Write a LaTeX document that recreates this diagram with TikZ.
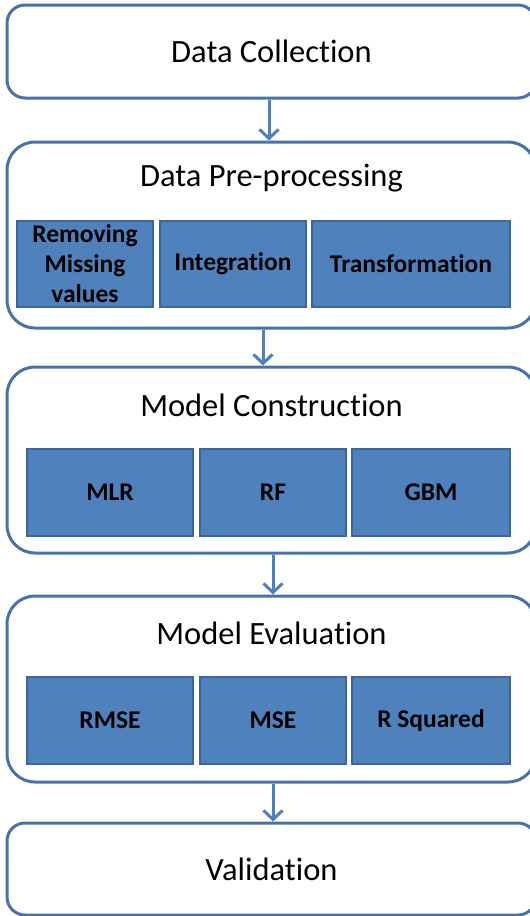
\documentclass[tikz,border=0pt]{standalone}
\usepackage{fontspec}
\setmainfont{Carlito}[Ligatures=CommonOff]
\usetikzlibrary{arrows.meta}
\definecolor{boxfill}{HTML}{4F81BD}
\definecolor{subline}{HTML}{3B659C}
\definecolor{outline}{HTML}{4872AA}
\definecolor{arrowc}{HTML}{4F81BD}
\begin{document}
\begin{tikzpicture}[x=1pt,y=-1pt,
  outer/.style={draw=outline, line width=3pt, fill=white, minimum width=529pt, inner sep=0pt},
  title/.style={font=\fontsize{32.5}{36}\selectfont, text=black, inner sep=0pt},
  sub/.style={draw=subline, line width=2pt, fill=boxfill, inner sep=0pt, align=center,
     font=\fontsize{25.5}{30}\selectfont\bfseries, text=black},
  flow/.style={draw=arrowc, line width=3pt, -{Straight Barb[length=9pt,width=19pt,line width=3pt]}}]
\useasboundingbox (0,0) rectangle (530,916);
\clip (0,0) rectangle (530,916);
\fill[white] (0,0) rectangle (530,916);

% outer boxes
\node[outer, rounded corners=18pt, minimum height=93pt, font=\fontsize{32.5}{36}\selectfont] (dc) at (271.5,51.5) {Data Collection};
\node[outer, rounded corners=28pt, minimum height=186pt] (dp) at (271.5,235) {};
\node[outer, rounded corners=28pt, minimum height=186pt] (mc) at (271.5,460) {};
\node[outer, rounded corners=28pt, minimum height=186pt] (me) at (271.5,689) {};
\node[outer, rounded corners=18pt, minimum height=92pt, font=\fontsize{32.5}{36}\selectfont] (va) at (271.5,869) {Validation};

% titles
\node[title] (dpt) at (271.5,178) {Data Pre-processing};
\node[title] (mct) at (271.5,405) {Model Construction};
\node[title] (met) at (271.5,633) {Model Evaluation};

% sub boxes: pre-processing
\node[sub, minimum width=136pt, minimum height=86pt] (rm) at (85,264) {Removing\\Missing\\values};
\node[sub, minimum width=146pt, minimum height=86pt] (ig) at (233,264) {Integration};
\node[sub, minimum width=198pt, minimum height=86pt] (tf) at (411,264) {Transformation};

% sub boxes: model construction
\node[sub, minimum width=166pt, minimum height=87pt] (mlr) at (110,492.5) {MLR};
\node[sub, minimum width=146pt, minimum height=87pt] (rf) at (273,492.5) {RF};
\node[sub, minimum width=158pt, minimum height=87pt] (gbm) at (431,492.5) {GBM};

% sub boxes: model evaluation
\node[sub, minimum width=166pt, minimum height=87pt] (rmse) at (110,720.5) {RMSE};
\node[sub, minimum width=146pt, minimum height=87pt] (mse) at (273,720.5) {MSE};
\node[sub, minimum width=158pt, minimum height=87pt] (rsq) at (431,720.5) {R Squared};

% arrows
\draw[flow] ([xshift=-2.5pt]dc.south) -- ([xshift=-2.5pt]dp.north);
\draw[flow] ([xshift=-8.5pt]dp.south) -- ([xshift=-8.5pt]mc.north);
\draw[flow] ([xshift=1.5pt]mc.south) -- ([xshift=1.5pt]me.north);
\draw[flow] ([xshift=1.5pt]me.south) -- ([xshift=1.5pt]va.north);
\end{tikzpicture}
\end{document}
